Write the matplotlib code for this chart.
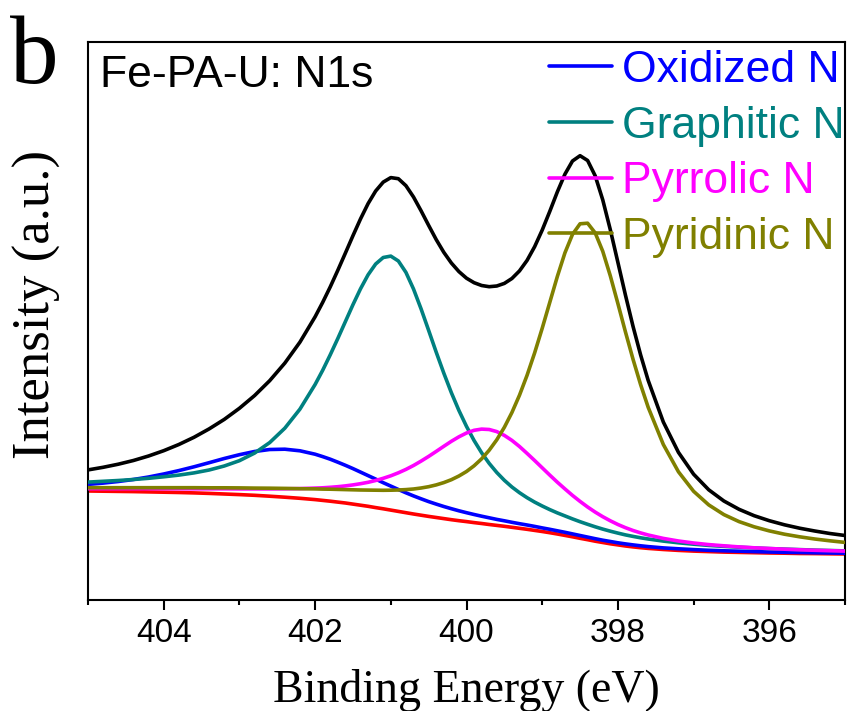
import matplotlib
matplotlib.use('Agg')
import matplotlib.pyplot as plt
from matplotlib.ticker import MultipleLocator

# Binding energy (eV)
energy = [405.0, 404.8, 404.6, 404.4, 404.2, 404.0, 403.8, 403.6, 403.4, 403.2, 403.0, 402.8, 402.6, 402.4, 402.2,
          402.0, 401.9, 401.8, 401.7, 401.6, 401.5, 401.4, 401.3, 401.2, 401.1, 401.0, 400.9, 400.8, 400.7, 400.6,
          400.5, 400.4, 400.3, 400.2, 400.1, 400.0, 399.9, 399.8, 399.7, 399.6, 399.5, 399.4, 399.3, 399.2, 399.1,
          399.0, 398.9, 398.8, 398.7, 398.6, 398.5, 398.4, 398.3, 398.2, 398.1, 398.0, 397.9, 397.8, 397.7,
          397.6, 397.4, 397.2, 397.0, 396.8, 396.6, 396.4, 396.2, 396.0, 395.8, 395.6, 395.4, 395.2, 395.0]

# Intensities (a.u.)
background = [109.0, 108.8, 108.6, 108.4, 108.1, 107.8, 107.5, 107.1, 106.6, 106.0, 105.4, 104.7, 103.8, 102.8, 101.7,
              100.4, 99.6, 98.8, 97.9, 97.0, 95.9, 94.8, 93.7, 92.4, 91.2, 89.9, 88.6, 87.3, 86.0, 84.8,
              83.6, 82.5, 81.4, 80.3, 79.3, 78.4, 77.4, 76.5, 75.5, 74.6, 73.7, 72.7, 71.7, 70.7, 69.6,
              68.5, 67.3, 66.0, 64.6, 63.2, 61.7, 60.3, 58.8, 57.5, 56.2, 55.1, 54.0, 53.1, 52.3, 51.6,
              50.5, 49.6, 48.9, 48.4, 47.9, 47.6, 47.3, 47.0, 46.8, 46.5, 46.4, 46.2, 46.0]
oxidized_n = [115.6, 116.9, 118.5, 120.5, 123.0, 126.0, 129.4, 133.2, 137.3, 141.5, 145.3, 148.5, 150.5, 150.8, 149.2,
              145.8, 143.4, 140.8, 137.8, 134.7, 131.4, 127.9, 124.4, 120.9, 117.3, 113.9, 110.5, 107.2, 104.1, 101.2,
              98.4, 95.9, 93.5, 91.3, 89.2, 87.3, 85.5, 83.8, 82.2, 80.6, 79.2, 77.7, 76.3, 75.0, 73.6,
              72.1, 70.7, 69.2, 67.7, 66.1, 64.5, 62.9, 61.3, 59.8, 58.5, 57.2, 56.1, 55.1, 54.2, 53.4,
              52.1, 51.2, 50.4, 49.7, 49.2, 48.8, 48.4, 48.0, 47.7, 47.5, 47.2, 47.0, 46.8]
graphitic_n = [117.9, 118.7, 119.5, 120.5, 121.7, 123.2, 124.9, 127.1, 130.0, 134.0, 139.3, 146.9, 157.4, 171.8, 190.9,
               215.5, 229.7, 245.2, 261.5, 278.4, 295.3, 311.2, 325.2, 336.0, 342.5, 343.9, 339.0, 327.6, 311.0, 291.1,
               269.6, 247.8, 226.9, 207.3, 189.5, 173.6, 159.5, 147.2, 136.6, 127.5, 119.7, 113.0, 107.3, 102.3, 97.9,
               94.0, 90.4, 87.1, 84.1, 81.1, 78.3, 75.7, 73.2, 70.9, 68.8, 66.9, 65.1, 63.6, 62.2, 61.0,
               58.9, 57.2, 55.8, 54.6, 53.6, 52.8, 52.1, 51.4, 50.9, 50.4, 49.9, 49.5, 49.1]
pyrrolic_n = [111.3, 111.3, 111.3, 111.3, 111.3, 111.3, 111.3, 111.2, 111.2, 111.2, 111.1, 111.1, 111.1, 111.2, 111.4,
              111.9, 112.2, 112.7, 113.3, 114.1, 115.1, 116.3, 117.7, 119.5, 121.7, 124.2, 127.2, 130.6, 134.5, 138.9,
              143.6, 148.6, 153.7, 158.7, 163.2, 167.0, 169.7, 170.9, 170.5, 168.4, 164.6, 159.6, 153.5, 146.6, 139.5,
              132.2, 124.9, 117.8, 111.1, 104.6, 98.6, 93.0, 87.9, 83.3, 79.2, 75.5, 72.3, 69.5, 67.1, 65.0,
              61.6, 59.0, 57.0, 55.4, 54.2, 53.1, 52.2, 51.5, 50.8, 50.2, 49.7, 49.3, 48.9]
pyridinic_n = [112.3, 112.3, 112.3, 112.3, 112.3, 112.3, 112.3, 112.3, 112.2, 112.2, 112.1, 111.9, 111.8, 111.6, 111.3,
               111.1, 110.9, 110.8, 110.6, 110.4, 110.2, 110.0, 109.9, 109.8, 109.7, 109.8, 110.0, 110.4, 111.0, 112.0,
               113.3, 115.1, 117.4, 120.3, 124.0, 128.5, 134.2, 141.2, 149.8, 160.2, 172.7, 187.5, 204.8, 224.7, 247.1,
               271.7, 297.6, 323.5, 347.1, 365.6, 376.2, 376.8, 367.1, 348.7, 324.1, 296.4, 268.0, 240.7, 215.4, 192.7,
               155.5, 128.2, 108.7, 95.1, 85.4, 78.4, 73.2, 69.1, 65.8, 63.2, 61.0, 59.2, 57.6]
total = [130.1, 132.7, 135.8, 139.5, 144.0, 149.3, 155.5, 162.7, 171.1, 180.6, 191.7, 204.4, 219.3, 236.9, 257.9,
         283.2, 297.6, 313.1, 329.7, 346.9, 364.3, 381.1, 396.4, 409.0, 417.9, 422.4, 421.3, 414.3, 403.0, 389.2,
         374.6, 360.4, 347.7, 337.0, 328.4, 321.8, 317.3, 314.5, 313.3, 314.0, 316.6, 321.5, 329.1, 339.6, 353.3,
         369.9, 388.6, 408.1, 425.8, 439.0, 444.3, 439.5, 424.2, 400.1, 370.2, 337.6, 304.8, 273.6, 245.1, 219.6,
         178.0, 147.6, 125.8, 110.2, 99.0, 90.7, 84.3, 79.3, 75.2, 71.8, 69.0, 66.5, 64.5]

labels = ['Oxidized N', 'Graphitic N', 'Pyrrolic N', 'Pyridinic N']
colors = ['#0000FF', '#008080', '#FF00FF', '#808000']
xticks = [404, 402, 400, 398, 396]

SANS = 'Liberation Sans'
SERIF = 'Liberation Serif'
LW = 2.6
style = dict(lw=LW, solid_joinstyle='round', solid_capstyle='round')

fig = plt.figure(figsize=(8.48, 7.11), dpi=100)
ax = fig.add_axes([88 / 848, 111 / 711, 757 / 848, 558 / 711])

ax.plot(energy, background, color='#FF0000', zorder=2, **style)
handles = []
for i, (series, lab, col) in enumerate(zip([oxidized_n, graphitic_n, pyrrolic_n, pyridinic_n], labels, colors)):
    h, = ax.plot(energy, series, color=col, label=lab, zorder=3 + i, **style)
    handles.append(h)
ax.plot(energy, total, color='black', zorder=8, **style)

ax.set_xlim(405, 395)
ax.set_ylim(0, 558)
ax.set_xticks(xticks)
ax.xaxis.set_minor_locator(MultipleLocator(1))
ax.set_yticks([])
ax.tick_params(axis='x', which='major', direction='out', length=7, width=1.5, pad=6,
               labelsize=24, top=False)
ax.tick_params(axis='x', which='minor', direction='out', length=3.6, width=1.5, top=False)
for lab in ax.get_xticklabels():
    lab.set_fontfamily(SANS)
for sp in ax.spines.values():
    sp.set_linewidth(1.5)
    sp.set_color('black')

ax.set_xlabel('Binding Energy (eV)', fontfamily=SERIF, fontsize=33, va='baseline')
ax.xaxis.set_label_coords(0.5, -0.183)
ax.set_ylabel('Intensity (a.u.)', fontfamily=SERIF, fontsize=38, va='center')
ax.yaxis.set_label_coords(-0.067, 0.53)

ax.text(0.0159, 0.919, 'Fe-PA-U: N1s', transform=ax.transAxes, fontfamily=SANS, fontsize=32,
        ha='left', va='baseline')

leg = ax.legend(handles=handles, loc='upper right', bbox_to_anchor=(0.999, 0.9856),
                frameon=False, borderpad=0, borderaxespad=0, handlelength=1.4,
                handletextpad=0.225, labelspacing=0.33, labelcolor='linecolor',
                prop={'family': SANS, 'size': 32})
leg.set_zorder(10)

fig.text(10 / 848, 1 - 83 / 711, 'b', fontfamily=SERIF, fontsize=70, ha='left', va='baseline')

fig.savefig('out.png', dpi=100)
